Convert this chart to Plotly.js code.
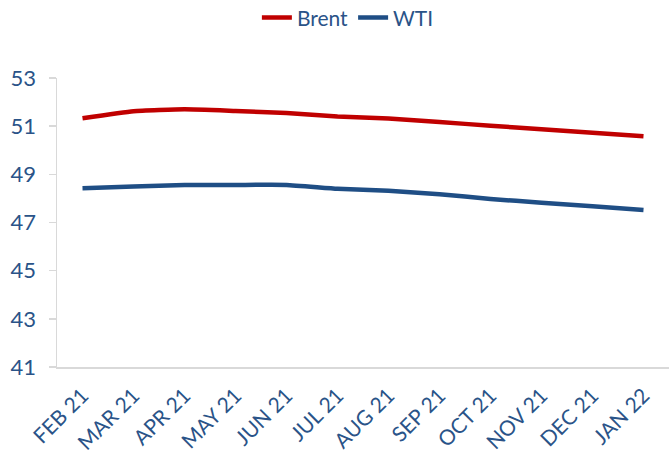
<!DOCTYPE html>
<html><head><meta charset="utf-8">
<script src="https://cdn.plot.ly/plotly-3.0.1.min.js"></script>
<style>body{margin:0;padding:0;background:#fff}#chart{width:669px;height:468px}</style>
</head><body><div id="chart"></div>
<script>
const months = ["FEB 21","MAR 21","APR 21","MAY 21","JUN 21","JUL 21","AUG 21","SEP 21","OCT 21","NOV 21","DEC 21","JAN 22"];
const brent = [51.33, 51.62, 51.70, 51.63, 51.55, 51.40, 51.32, 51.17, 51.02, 50.87, 50.73, 50.58];
const wti = [48.42, 48.49, 48.56, 48.56, 48.56, 48.40, 48.32, 48.17, 47.98, 47.82, 47.67, 47.52];
const yTicks = [41, 43, 45, 47, 49, 51, 53];
const fontFam = 'Lato, "Open Sans", sans-serif';
const txt = '#2A5388';
const traces = [
  {x: months, y: brent, name: 'Brent', type: 'scatter', mode: 'lines',
   line: {color: '#C00000', width: 4.5, shape: 'spline', smoothing: 0.4}},
  {x: months, y: wti, name: 'WTI', type: 'scatter', mode: 'lines',
   line: {color: '#1F4E85', width: 4.5, shape: 'spline', smoothing: 0.4}}
];
const layout = {
  width: 669, height: 468,
  margin: {l: 57, r: 0, t: 78, b: 101},
  paper_bgcolor: '#fff', plot_bgcolor: '#fff',
  font: {family: fontFam, color: txt, size: 20},
  showlegend: true,
  legend: {orientation: 'h', x: 0.52, xanchor: 'center', y: 0.962, yanchor: 'middle', xref: 'container', yref: 'container',
           font: {size: 21, color: txt, family: fontFam}, traceorder: 'normal', itemwidth: 30},
  xaxis: {type: 'category', range: [-0.5, 11.5], tickangle: -45, showgrid: false,
          showline: true, linecolor: '#D9D9D9', linewidth: 2, ticks: '', zeroline: false,
          ticklabelstandoff: 6,
          tickfont: {size: 21, color: txt, family: fontFam}, fixedrange: true},
  yaxis: {range: [41, 53], tickvals: yTicks, ticktext: yTicks.map(String), showgrid: false,
          showline: true, linecolor: '#D9D9D9', linewidth: 1.5, ticks: 'outside', ticklen: 7,
          tickcolor: '#D9D9D9', tickwidth: 1.5, zeroline: false, ticklabelstandoff: 8,
          tickfont: {size: 22, color: txt, family: fontFam}, fixedrange: true}
};
Plotly.newPlot('chart', traces, layout, {displayModeBar: false, staticPlot: true});
</script></body></html>
